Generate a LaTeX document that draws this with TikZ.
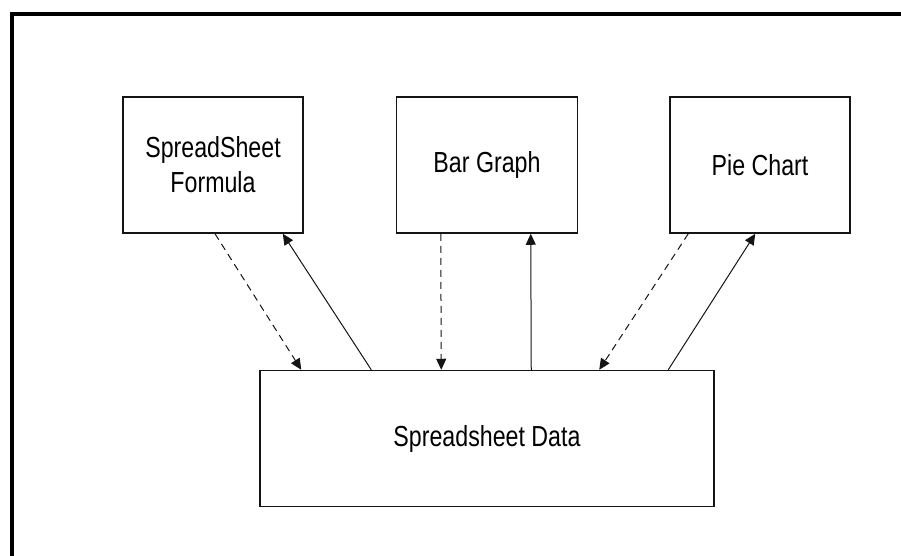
\documentclass[tikz,border=0pt]{standalone}
\usepackage{fontspec}
\setmainfont{Liberation Sans}[FakeStretch=0.8]
\usepackage{tikz}
\usetikzlibrary{arrows.meta, positioning, calc}
\definecolor{sheetdark}{RGB}{20, 20, 20}

\begin{document}
\begin{tikzpicture}[
  x=1pt, y=-1pt,
  box/.style={rectangle, draw=sheetdark, fill=white, line width=1.5pt,
              minimum height=136pt, minimum width=180pt, align=center,
              inner sep=0pt, font=\fontsize{29pt}{35pt}\selectfont},
  arrow/.style={-{Triangle[length=11pt,width=10pt]}, line width=1pt, color=sheetdark},
  darrow/.style={arrow, dash pattern=on 7pt off 5pt},
]
  \useasboundingbox (0,0) rectangle (901,555);
  % frame
  \draw[line width=4pt] (12,557) -- (12,14) -- (903,14);

  % Spreadsheet Formula
  \node[box] (formula) at (213,165) {SpreadSheet\\Formula};
  % Bar Graph
  \node[box, minimum width=181pt, right=92pt of formula] (bar) {Bar Graph};
  % Pie Chart
  \node[box, right=91pt of bar] (pie) {Pie Chart};
  % Spreadsheet Data
  \node[box, minimum width=454pt, below=136pt of bar] (data) {Spreadsheet Data};

  % Arrows
  \draw[darrow] ([xshift=2pt]formula.south) -- ([xshift=42pt]data.north west);
  \draw[arrow] ([xshift=112pt]data.north west) -- ([xshift=-21pt]formula.south east);
  \draw[darrow] ([xshift=45pt]bar.south west) -- ([xshift=182pt]data.north west);
  \draw[arrow] ([xshift=272pt]data.north west) -- ([xshift=135pt]bar.south west);
  \draw[darrow] ([xshift=19pt]pie.south west) -- ([xshift=340pt]data.north west);
  \draw[arrow] ([xshift=409pt]data.north west) -- ([xshift=86pt]pie.south west);
\end{tikzpicture}
\end{document}
